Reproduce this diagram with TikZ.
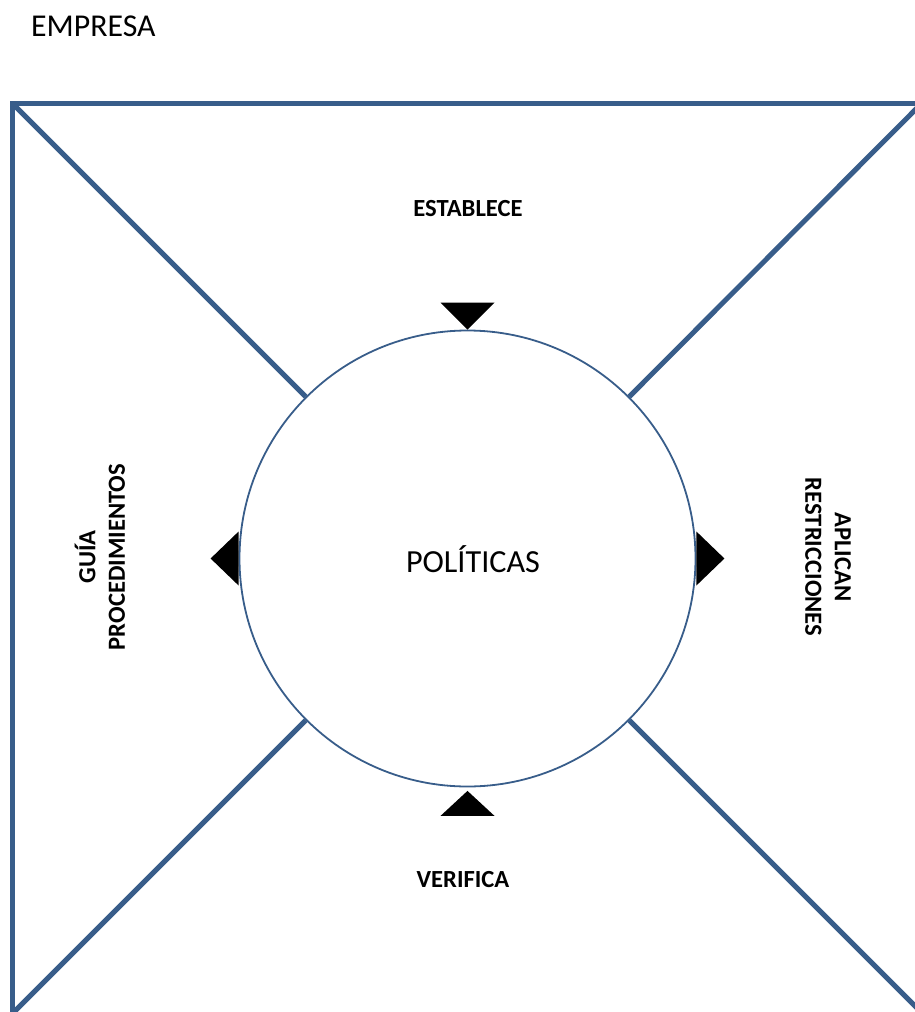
\documentclass[tikz,border=0pt]{standalone}
\usepackage{fontspec}
\setmainfont{Carlito}
\definecolor{frameblue}{HTML}{385D8A}
\begin{document}
\begin{tikzpicture}[x=1pt,y=-1pt,
  frameline/.style={draw=frameblue,line width=5pt},
  lbl/.style={font=\bfseries\fontsize{24.6}{29.5}\selectfont,align=center,inner sep=0pt},
  tri/.style={fill=black}]
\useasboundingbox (0,0) rectangle (915,1012);
\node[circle,draw=frameblue,line width=1.8pt,minimum size=456pt,inner sep=0pt] (c) at (467.5,558.5) {};
\node[inner sep=0pt,font=\fontsize{32.2}{36}\selectfont] (pol) at (473,559) {POLÍTICAS};
\node[anchor=west,inner sep=0pt,font=\fontsize{31.8}{36}\selectfont] (empresa) at (31,26) {EMPRESA};
\coordinate (tl) at (12,103);
\coordinate (tr) at (917,103);
\coordinate (bl) at (12,1016);
\coordinate (trd) at (917,108);
\coordinate (bld) at (10,1016);
\coordinate (brd) at (919,1010);
\draw[frameline,line join=miter] (tr) -- (tl) -- (bl);
\draw[frameline] (tl) -- (c.135);
\draw[frameline] (trd) -- (c.45);
\draw[frameline] (bld) -- (c.225);
\draw[frameline] (brd) -- (c.315);
\fill[tri] (c.north) -- ++(-27,-27) -- ++(54,0) -- cycle;
\fill[tri] (c.west) ++(0,-27) -- ++(-28,27) -- ++(28,27) -- cycle;
\fill[tri] (c.east) ++(0,-27) -- ++(28,27) -- ++(-28,27) -- cycle;
\fill[tri] (c.south) ++(0,3.5) -- ++(-27,25) -- ++(54,0) -- cycle;
\node[lbl] (est) at (468,209) {ESTABLECE};
\node[lbl] (ver) at (463,880) {VERIFICA};
\node[lbl,rotate=90] (guia) at (100,557) {GUÍA\\PROCEDIMIENTOS};
\node[lbl,rotate=-90] (apl) at (828,557) {APLICAN\\RESTRICCIONES};
\end{tikzpicture}
\end{document}
